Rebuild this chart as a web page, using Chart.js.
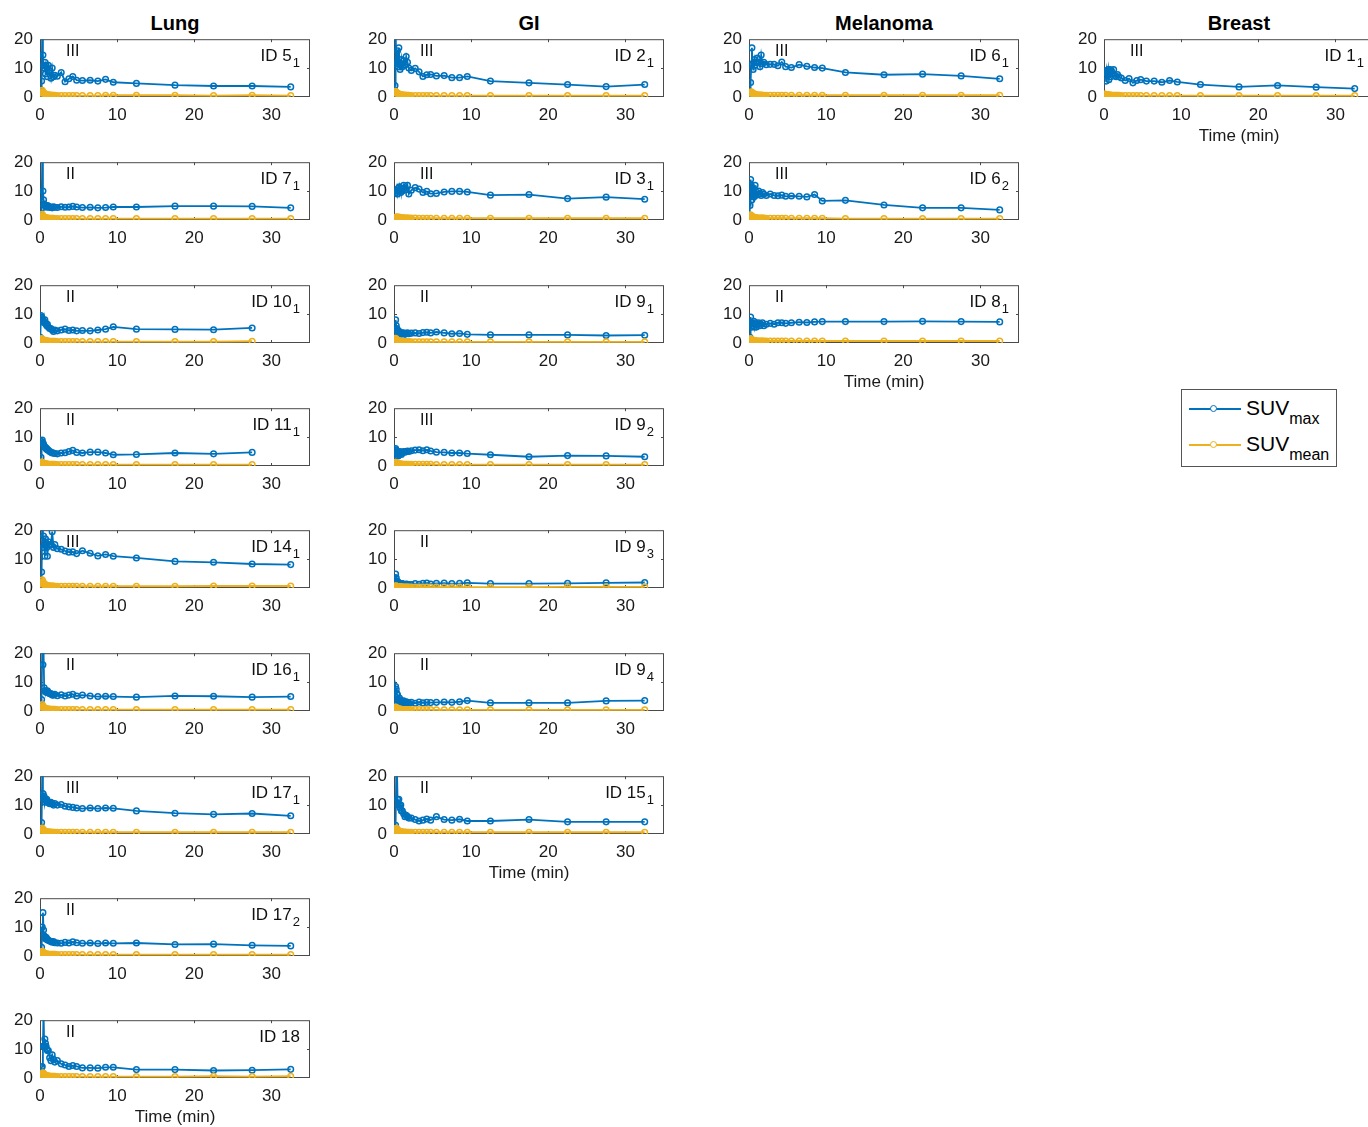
<!DOCTYPE html>
<html>
<head>
<meta charset="utf-8">
<script src="https://cdn.jsdelivr.net/npm/chart.js@4.4.1/dist/chart.umd.min.js"></script>
<style>
  body { margin: 0; width: 1368px; height: 1127px; overflow: hidden; background: #fff; position: relative;
         font-family: "Liberation Sans", Arial, Helvetica, sans-serif; color: #000; }
  canvas { position: absolute; }
  .head { position: absolute; top: 11px; width: 200px; margin-left: -100px; text-align: center;
          font-weight: bold; font-size: 20px; line-height: 24px; }
  .legend { position: absolute; left: 1181px; top: 389px; width: 154px; height: 76px;
            border: 1px solid #555; background: #fff; }
  .legend .row { position: absolute; left: 0; height: 30px; width: 150px; }
  .legend .ln { position: absolute; left: 7px; width: 52px; top: 14px; height: 2px; }
  .legend .mk { position: absolute; left: 28px; top: 11px; width: 5px; height: 5px; border-radius: 50%; border: 1.5px solid; background: #fff; }
  .legend .tx { position: absolute; left: 64px; top: 2px; font-size: 21px; line-height: 24px; white-space: nowrap; }
  .legend .tx sub { font-size: 16px; vertical-align: -9px; line-height: 0; }
</style>
</head>
<body>
<script>
// frame mid-times (min)
const frameMid = [0.04,0.13,0.21,0.29,0.38,0.46,0.54,0.63,0.71,0.79,0.88,0.96,
  1.08,1.25,1.42,1.58,1.75,1.92, 2.25,2.75,3.25,3.75,4.25,4.75,
  5.5,6.5,7.5,8.5,9.5, 12.5,17.5,22.5,27.5,32.5];

const xTicks = [0, 10, 20, 30];
const yTicks = [0, 10, 20];
const cancerTypes = ['Lung', 'GI', 'Melanoma', 'Breast'];

// ---- Lung ----
const lung5a_max = [1.5,2.5,5.5,24,14.5,11,10,12,8,11,10,7, 11,9,6.5,10,7,7.5, 7.2,8.5,5.3,6.3,7.1,5.8, 5.7,5.8,5.5,6.1,5.1, 4.7,4.1,3.8,3.8,3.5];
const lung5a_mean = [0.3,0.7,1.4,2.3,1.8,1.4,1.2,1.1,1.0,0.9,0.9,0.8, 0.8,0.7,0.7,0.6,0.6,0.6, 0.5,0.5,0.5,0.5,0.5,0.5, 0.5,0.5,0.5,0.6,0.6, 0.6,0.6,0.5,0.6,0.5];
const lung7a_max = [1,2,4,22,10,7,5.5,5,5,4.5,4.5,5, 4.8,4.3,4.5,4.2,4.6,4.4, 4.3,4.6,4.4,4.5,4.7,4.5, 4.3,4.4,4.2,4.3,4.5, 4.5,4.8,4.8,4.7,4.2];
const lung7a_mean = [0.3,0.6,1.2,2.0,1.5,1.2,1.0,0.9,0.8,0.8,0.7,0.7, 0.7,0.6,0.6,0.6,0.6,0.5, 0.5,0.5,0.5,0.5,0.5,0.5, 0.5,0.5,0.5,0.5,0.5, 0.5,0.5,0.5,0.5,0.5];
const lung10a_max = [2,9.5,9,8.5,8,7.5,7,8,7,6.5,6,6.5, 5.5,5,5,4.5,4,4.5, 4.2,4.5,4.8,4.3,4.5,4.2, 4.3,4.2,4.5,4.8,5.6, 4.8,4.7,4.6,5.2,null];
const lung10a_mean = [0.4,1.2,1.5,1.3,1.1,1.0,0.9,0.9,0.8,0.8,0.7,0.7, 0.7,0.6,0.6,0.6,0.6,0.6, 0.5,0.5,0.5,0.5,0.5,0.5, 0.5,0.5,0.5,0.5,0.5, 0.5,0.5,0.5,0.6,null];
const lung11a_max = [1,3,8.5,9,8,7.5,7,6.5,6.5,6,6,5.5, 5.5,5,4.8,4.5,4.5,4.3, 4.2,4.5,4.6,5.0,5.4,4.7, 4.5,4.8,4.8,4.5,3.9, 4.0,4.5,4.2,4.7,null];
const lung11a_mean = [0.3,0.8,1.4,1.3,1.1,1.0,0.9,0.8,0.8,0.7,0.7,0.7, 0.6,0.6,0.6,0.6,0.6,0.6, 0.5,0.5,0.5,0.5,0.5,0.5, 0.5,0.5,0.5,0.5,0.5, 0.5,0.5,0.5,0.5,null];
const lung14a_max = [0.5,1.5,5.5,24,14,18,15,11,17,15,14,11, 16,15,15,19.5,14,15, 13.6,13.4,12.8,12.4,12.5,11.9, 12.9,12,11.1,11.6,11, 10.4,9.2,8.9,8.3,8.1];
const lung14a_mean = [0.3,0.8,1.8,2.8,2.2,1.7,1.4,1.2,1.1,1.0,0.9,0.9, 0.8,0.8,0.7,0.7,0.7,0.6, 0.6,0.6,0.6,0.6,0.6,0.6, 0.6,0.6,0.6,0.6,0.6, 0.6,0.6,0.7,0.7,0.7];
const lung16a_max = [1,2,4,22,16,21,8,7,7,6.5,6.5,7, 6.5,6,6,5.5,5.5,5.8, 5.3,5.6,5.2,5.5,5.8,5.2, 5.5,5.2,5.0,5.1,5.0, 4.8,5.2,5.1,4.8,5.0];
const lung16a_mean = [0.3,0.7,1.3,2.2,1.7,1.4,1.1,1.0,0.9,0.8,0.8,0.7, 0.7,0.7,0.6,0.6,0.6,0.6, 0.5,0.5,0.5,0.5,0.5,0.5, 0.5,0.5,0.5,0.5,0.5, 0.5,0.5,0.5,0.5,0.5];
const lung17a_max = [0.5,1.5,4,22,14,12,13,11,12,11.5,12,11, 11,10.5,11,10.5,10,10.5, 10,10.2,9.6,9.4,9.2,9.0, 8.8,9.0,8.8,9.0,8.9, 8.0,7.2,6.8,7.1,6.3];
const lung17a_mean = [0.2,0.6,1.3,2.1,1.6,1.3,1.1,1.0,0.9,0.9,0.8,0.8, 0.7,0.7,0.7,0.6,0.6,0.6, 0.6,0.6,0.6,0.6,0.6,0.6, 0.6,0.6,0.6,0.6,0.6, 0.6,0.6,0.6,0.6,0.6];
const lung17b_max = [0.5,1.5,3,10,15,9,7,6.5,6,6.5,6,5.5, 5.5,5.2,5,4.8,5,4.6, 4.5,4.4,4.7,4.5,4.9,4.6, 4.4,4.5,4.3,4.5,4.4, 4.5,4.0,4.1,3.7,3.5];
const lung17b_mean = [0.2,0.5,1.0,1.6,1.4,1.1,0.9,0.8,0.8,0.7,0.7,0.7, 0.6,0.6,0.6,0.6,0.6,0.6, 0.5,0.5,0.5,0.5,0.5,0.5, 0.5,0.5,0.5,0.5,0.5, 0.5,0.5,0.5,0.5,0.5];
const lung18_max = [1,2,3.5,4,11,24,11,13.5,12,11,10,9.5, 9.5,7,6,8,6.5,5.5, 6,4.9,4.5,4,4.3,4, 3.5,3.5,3.4,3.7,3.7, 2.9,2.9,2.6,2.7,3.0];
const lung18_mean = [0.2,0.5,0.9,1.3,1.8,1.6,1.3,1.1,1.0,0.9,0.8,0.8, 0.7,0.7,0.6,0.6,0.6,0.6, 0.5,0.5,0.5,0.5,0.5,0.5, 0.5,0.5,0.5,0.5,0.5, 0.5,0.5,0.6,0.5,0.6];

// ---- GI ----
const gi2a_max = [2.5,4,24,11.5,12,16,10.5,17,12,9.5,11,13, 10.5,12.5,11,14,12,10, 9.2,9.9,8.7,7.1,7.7,7.8, 7.3,7.4,6.7,6.7,7.1, 5.5,4.9,4.3,3.6,4.3];
const gi2a_mean = [0.3,0.8,2.0,1.6,1.4,1.3,1.1,1.0,0.9,0.9,0.8,0.8, 0.7,0.7,0.7,0.6,0.6,0.6, 0.5,0.5,0.5,0.5,0.5,0.5, 0.5,0.5,0.5,0.5,0.5, 0.5,0.5,0.5,0.5,0.5];
const gi3a_max = [null,null,null,9.5,10,9,11,10,11.5,10.5,9.5,11, 10,12,11,10.5,12,9, 10.3,11.2,10.7,9.5,9.9,9.1, 9.2,9.7,9.9,9.9,9.7, 8.6,8.8,7.4,7.9,7.2];
const gi3a_mean = [null,null,null,1.0,1.0,1.0,0.9,0.9,0.9,0.9,0.8,0.8, 0.8,0.8,0.7,0.7,0.7,0.7, 0.7,0.7,0.6,0.6,0.6,0.6, 0.6,0.6,0.6,0.6,0.6, 0.6,0.6,0.6,0.6,0.6];
const gi9a_max = [1,3,8,6,5,4.5,4,3.5,4,3.5,3,3.5, 3.2,3.5,3,3.3,3.5,3.2, 3.4,3.5,3.3,3.6,3.7,3.5, 3.8,3.5,3.2,3.3,3.0, 2.8,2.8,2.8,2.6,2.7];
const gi9a_mean = [0.3,0.8,1.6,1.3,1.1,1.0,0.9,0.8,0.7,0.7,0.6,0.6, 0.6,0.5,0.5,0.5,0.5,0.5, 0.4,0.4,0.4,0.4,0.4,0.4, 0.4,0.4,0.4,0.4,0.4, 0.4,0.4,0.4,0.4,0.4];
const gi9b_max = [1,3,6,5.5,4.5,5,3.5,4,4.5,5,4.5,4, 4.5,5,4.8,5,5.2,5, 5.3,5.5,5.6,5.3,5.6,5.2, 4.8,4.7,4.5,4.5,4.3, 3.9,3.2,3.6,3.5,3.2];
const gi9b_mean = [0.3,0.7,1.3,1.2,1.0,0.9,0.8,0.8,0.7,0.7,0.7,0.7, 0.6,0.6,0.6,0.6,0.6,0.6, 0.6,0.6,0.6,0.6,0.6,0.6, 0.5,0.5,0.5,0.5,0.5, 0.5,0.5,0.5,0.5,0.5];
const gi9c_max = [0.5,2,4.8,3.5,2.5,2,2,1.8,1.5,1.6,1.4,1.5, 1.5,1.3,1.2,1.4,1.3,1.2, 1.2,1.5,1.3,1.6,1.7,1.4, 1.6,1.7,1.5,1.6,1.8, 1.5,1.5,1.6,1.8,1.9];
const gi9c_mean = [0.1,0.4,0.8,0.7,0.6,0.5,0.5,0.4,0.4,0.4,0.4,0.4, 0.3,0.3,0.3,0.3,0.3,0.3, 0.3,0.3,0.3,0.3,0.3,0.3, 0.3,0.3,0.3,0.3,0.3, 0.3,0.3,0.4,0.4,0.4];
const gi9d_max = [1,3,8.5,7.5,6,5.5,4,3.5,4.5,3.5,3,3.5, 3,3.5,2.8,3.2,3,2.8, 3,2.7,3.1,2.8,3,2.9, 3,3.1,3,3.2,3.6, 2.8,2.8,2.8,3.5,3.6];
const gi9d_mean = [0.2,0.7,1.4,1.2,1.0,0.9,0.8,0.7,0.7,0.6,0.6,0.6, 0.5,0.5,0.5,0.5,0.5,0.5, 0.5,0.5,0.5,0.5,0.5,0.5, 0.4,0.4,0.4,0.4,0.4, 0.4,0.4,0.4,0.4,0.4];
const gi15a_max = [0.5,1.5,3,22,23,12,10,12,10,9,10,8, 8,7,6,6.5,6,5.5, 5.5,5,4.5,4.8,5.2,4.8, 6,5,4.8,5.1,4.5, 4.5,5.0,4.2,4.2,4.2];
const gi15a_mean = [0.2,0.5,1.1,2.0,1.8,1.4,1.2,1.0,0.9,0.9,0.8,0.8, 0.7,0.7,0.7,0.6,0.6,0.6, 0.6,0.6,0.6,0.6,0.6,0.6, 0.6,0.6,0.6,0.6,0.6, 0.6,0.6,0.6,0.6,0.6];

// ---- Melanoma ----
const mel6a_max = [0.5,1.5,5,11,17,11.5,9.5,12,13,11,12,12, 13.5,12,10.5,14.5,11.5,12, 11.2,11.3,11.3,10.8,12.1,10.5, 10.2,11.2,10.6,10.2,10, 8.5,7.7,7.9,7.3,6.3];
const mel6a_mean = [0.2,0.7,1.4,1.8,1.6,1.3,1.1,1.0,1.0,0.9,0.9,0.8, 0.8,0.7,0.7,0.7,0.6,0.6, 0.6,0.6,0.6,0.6,0.6,0.6, 0.6,0.6,0.6,0.6,0.6, 0.6,0.6,0.6,0.6,0.6];
const mel6b_max = [0.5,5,14,12,7,10,11,8,9,12,8.5,9, 9.5,10,9,8.5,9.5,9, 8.5,9,8.5,8.4,8.6,8.2, 8.3,8.2,8.0,8.8,6.6, 6.8,5.2,4.2,4.2,3.5];
const mel6b_mean = [0.2,1.0,1.8,1.5,1.2,1.1,1.0,0.9,0.9,0.8,0.8,0.8, 0.7,0.7,0.7,0.7,0.7,0.7, 0.6,0.6,0.6,0.6,0.6,0.6, 0.6,0.6,0.6,0.6,0.6, 0.5,0.5,0.5,0.5,0.5];
const mel8a_max = [0.5,2,9,7,5.5,7,6,7.5,5.5,6.5,7,5.5, 6.5,7,6,6.5,7,6, 6.5,6.8,6.5,7,7,6.8, 7,7.2,7.1,7.3,7.4, 7.4,7.4,7.5,7.4,7.3];
const mel8a_mean = [0.2,0.7,1.5,1.3,1.1,1.0,0.9,0.9,0.8,0.8,0.8,0.7, 0.7,0.7,0.7,0.7,0.7,0.7, 0.7,0.7,0.7,0.7,0.7,0.7, 0.7,0.7,0.7,0.7,0.7, 0.7,0.7,0.7,0.7,0.7];

// ---- Breast ----
const br1a_max = [8.5,7.5,9,5.5,9,8,9.5,6,9,9.5,7,9, 8,9.5,7.5,7,7.8,7, 6.6,5.7,6.4,4.9,5.7,6, 5.5,5.5,5.1,5.7,5.2, 4.3,3.5,4.0,3.4,2.9];
const br1a_mean = [1.0,0.9,0.9,0.8,0.8,0.8,0.7,0.7,0.7,0.7,0.6,0.6, 0.6,0.6,0.6,0.6,0.6,0.6, 0.5,0.5,0.5,0.5,0.5,0.5, 0.5,0.5,0.5,0.5,0.5, 0.5,0.5,0.5,0.5,0.5];

const lungPanels = [
  { id: 'ID 5', sub: '1', grade: 'III', max: lung5a_max, mean: lung5a_mean },
  { id: 'ID 7', sub: '1', grade: 'II', max: lung7a_max, mean: lung7a_mean },
  { id: 'ID 10', sub: '1', grade: 'II', max: lung10a_max, mean: lung10a_mean },
  { id: 'ID 11', sub: '1', grade: 'II', max: lung11a_max, mean: lung11a_mean },
  { id: 'ID 14', sub: '1', grade: 'III', max: lung14a_max, mean: lung14a_mean },
  { id: 'ID 16', sub: '1', grade: 'II', max: lung16a_max, mean: lung16a_mean },
  { id: 'ID 17', sub: '1', grade: 'III', max: lung17a_max, mean: lung17a_mean },
  { id: 'ID 17', sub: '2', grade: 'II', max: lung17b_max, mean: lung17b_mean },
  { id: 'ID 18', sub: '', grade: 'II', max: lung18_max, mean: lung18_mean }
];
const giPanels = [
  { id: 'ID 2', sub: '1', grade: 'III', max: gi2a_max, mean: gi2a_mean },
  { id: 'ID 3', sub: '1', grade: 'III', max: gi3a_max, mean: gi3a_mean },
  { id: 'ID 9', sub: '1', grade: 'II', max: gi9a_max, mean: gi9a_mean },
  { id: 'ID 9', sub: '2', grade: 'III', max: gi9b_max, mean: gi9b_mean },
  { id: 'ID 9', sub: '3', grade: 'II', max: gi9c_max, mean: gi9c_mean },
  { id: 'ID 9', sub: '4', grade: 'II', max: gi9d_max, mean: gi9d_mean },
  { id: 'ID 15', sub: '1', grade: 'II', max: gi15a_max, mean: gi15a_mean }
];
const melanomaPanels = [
  { id: 'ID 6', sub: '1', grade: 'III', max: mel6a_max, mean: mel6a_mean },
  { id: 'ID 6', sub: '2', grade: 'III', max: mel6b_max, mean: mel6b_mean },
  { id: 'ID 8', sub: '1', grade: 'II', max: mel8a_max, mean: mel8a_mean }
];
const breastPanels = [
  { id: 'ID 1', sub: '1', grade: 'III', max: br1a_max, mean: br1a_mean }
];

// ---- layout ----
const BLUE = '#0072BD', YELLOW = '#EDB120';
const FONT = '"Liberation Sans", Arial, Helvetica, sans-serif';
const colLeft = [40, 394, 749, 1104];
const rowTop = [39, 162, 285, 408, 530, 653, 776, 898, 1020];
const plotW = 270, plotH = 58, yAxisW = 44, padTop = 14, padRight = 12;

// box, inward ticks and the grade / ID labels inside each axes
const panelDeco = {
  id: 'panelDeco',
  beforeDatasetsDraw(chart) {
    const { ctx, chartArea: a, scales: { x, y } } = chart;
    ctx.save();
    ctx.strokeStyle = '#4a4a4a';
    ctx.lineWidth = 1;
    ctx.strokeRect(a.left + 0.5, a.top + 0.5, a.width - 1, a.height - 1);
    ctx.beginPath();
    xTicks.slice(1).forEach(v => {
      const px = Math.round(x.getPixelForValue(v)) + 0.5;
      ctx.moveTo(px, a.bottom); ctx.lineTo(px, a.bottom - 3);
      ctx.moveTo(px, a.top); ctx.lineTo(px, a.top + 3);
    });
    yTicks.slice(1, -1).forEach(v => {
      const py = Math.round(y.getPixelForValue(v)) + 0.5;
      ctx.moveTo(a.left, py); ctx.lineTo(a.left + 3, py);
      ctx.moveTo(a.right, py); ctx.lineTo(a.right - 3, py);
    });
    ctx.stroke();
    ctx.restore();
  },
  afterDraw(chart, args, o) {
    const { ctx, chartArea: a } = chart;
    ctx.save();
    ctx.fillStyle = '#111';
    ctx.textBaseline = 'middle';
    ctx.font = '16px ' + FONT;
    ctx.textAlign = 'left';
    ctx.fillText(o.grade, a.left + 26, a.top + 12);
    ctx.font = '13px ' + FONT;
    const subW = o.sub ? ctx.measureText(o.sub).width + 1 : 0;
    ctx.textAlign = 'right';
    if (o.sub) ctx.fillText(o.sub, a.right - 10, a.top + 24);
    ctx.font = '17px ' + FONT;
    ctx.fillText(o.id, a.right - 10 - subW, a.top + 17);
    ctx.restore();
  }
};

function series(label, vals, color) {
  return {
    label,
    data: frameMid.map((t, i) => ({ x: t, y: vals[i] })),
    borderColor: color,
    pointBorderColor: color,
    pointBackgroundColor: 'rgba(255,255,255,0)',
    borderWidth: 1.8,
    pointRadius: 2.8,
    pointBorderWidth: 1.5,
    tension: 0
  };
}

function makePanel(col, row, p, isLast) {
  const xAxisH = isLast ? 50 : 28;
  const w = yAxisW + plotW + padRight, h = padTop + plotH + xAxisH;
  const cv = document.createElement('canvas');
  cv.width = w; cv.height = h;
  cv.style.width = w + 'px'; cv.style.height = h + 'px';
  document.body.appendChild(cv);

  const tickFont = { family: FONT, size: 17 };
  const chart = new Chart(cv, {
    type: 'line',
    data: { datasets: [series('SUVmean', p.mean, YELLOW), series('SUVmax', p.max, BLUE)] },
    plugins: [panelDeco],
    options: {
      responsive: false,
      maintainAspectRatio: false,
      animation: false,
      devicePixelRatio: 1,
      layout: { padding: { top: padTop, right: padRight, left: 0, bottom: 0 } },
      plugins: {
        legend: { display: false },
        tooltip: { enabled: false },
        panelDeco: { grade: p.grade, id: p.id, sub: p.sub }
      },
      scales: {
        x: {
          type: 'linear', min: 0, max: 35,
          afterBuildTicks: s => { s.ticks = xTicks.map(v => ({ value: v })); },
          afterFit: s => { s.height = xAxisH; },
          grid: { display: false, drawTicks: false },
          border: { display: false },
          ticks: { padding: 8, maxRotation: 0, font: tickFont, color: '#1a1a1a' },
          title: { display: isLast, text: 'Time (min)', padding: 0, font: tickFont, color: '#1a1a1a' }
        },
        y: {
          min: 0, max: 20,
          afterBuildTicks: s => { s.ticks = yTicks.map(v => ({ value: v })); },
          afterFit: s => { s.width = yAxisW; },
          grid: { display: false, drawTicks: false },
          border: { display: false },
          ticks: { padding: 7, font: tickFont, color: '#1a1a1a' }
        }
      }
    }
  });

  // grow the canvas if the layout shrank the plot area, then pin the plot box in place
  let a = chart.chartArea;
  for (let k = 0; k < 3; k++) {
    const dw = plotW - Math.round(a.right - a.left), dh = plotH - Math.round(a.bottom - a.top);
    if (!dw && !dh) break;
    const nw = cv.width + dw, nh = cv.height + dh;
    cv.style.width = nw + 'px'; cv.style.height = nh + 'px';
    chart.resize(nw, nh);
    a = chart.chartArea;
  }
  cv.style.left = (colLeft[col] - Math.round(a.left)) + 'px';
  cv.style.top = (rowTop[row] - Math.round(a.top)) + 'px';
}

[lungPanels, giPanels, melanomaPanels, breastPanels].forEach((list, col) => {
  const h = document.createElement('div');
  h.className = 'head';
  h.style.left = (colLeft[col] + plotW / 2) + 'px';
  h.textContent = cancerTypes[col];
  document.body.appendChild(h);
  list.forEach((p, row) => makePanel(col, row, p, row === list.length - 1));
});

// legend
const lg = document.createElement('div');
lg.className = 'legend';
[['max', BLUE, 4], ['mean', YELLOW, 40]].forEach(([sub, color, top]) => {
  const r = document.createElement('div');
  r.className = 'row';
  r.style.top = top + 'px';
  r.innerHTML = `<div class="ln" style="background:${color}"></div>` +
    `<div class="mk" style="border-color:${color}"></div>` +
    `<div class="tx">SUV<sub>${sub}</sub></div>`;
  lg.appendChild(r);
});
document.body.appendChild(lg);
</script>
</body>
</html>
